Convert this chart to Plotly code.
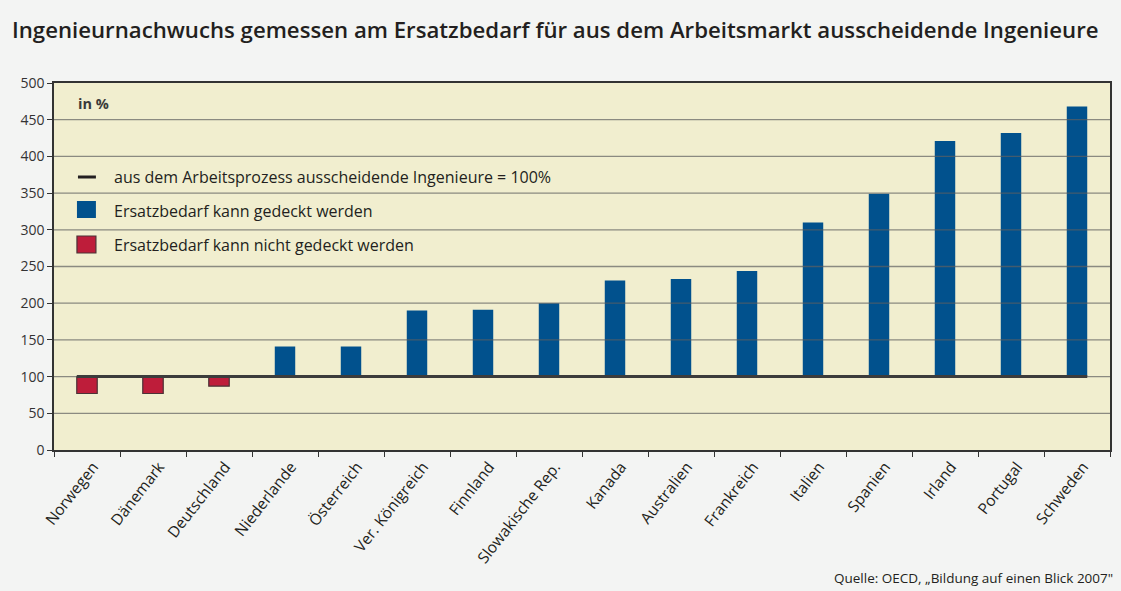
import plotly.graph_objects as go

# data (percent, 100 = replacement need)
countries = ["Norwegen", "Dänemark", "Deutschland", "Niederlande", "Österreich",
             "Ver. Königreich", "Finnland", "Slowakische Rep.", "Kanada", "Australien",
             "Frankreich", "Italien", "Spanien", "Irland", "Portugal", "Schweden"]
values = [77, 77, 87, 141, 141, 190, 191, 200, 231, 233, 244, 310, 349, 421, 432, 468]
baseline = 100

BLUE = "#01518d"
RED = "#be1d3a"
PLOT_BG = "#f1eecf"
PAGE_BG = "#f3f4f3"
TXT = "#231f20"
FONT = "Open Sans"

bar_w = 0.31

# plot area in pixels, used to place the hand-drawn legend
L, R, T, B = 54, 1112, 83, 450
W, H = 1121, 591


def px_x(p):
    return (p - L) / (R - L)


def px_y(p):
    return (B - p) / (B - T)


colors = [BLUE if v >= baseline else RED for v in values]
outline = [BLUE if v >= baseline else "#4b3236" for v in values]

fig = go.Figure()
fig.add_trace(go.Bar(
    x=countries,
    y=[v - baseline for v in values],
    base=baseline,
    width=bar_w,
    marker=dict(color=colors, line=dict(color=outline, width=[0 if v >= baseline else 1.2 for v in values])),
    showlegend=False,
    hoverinfo="x+text",
    text=[str(v) for v in values],
    textposition="none",
))

shapes = []
# gridlines sit on top of the bars in the original
for g in range(50, 500, 50):
    shapes.append(dict(type="line", xref="paper", yref="y", x0=0, x1=1, y0=g, y1=g,
                       line=dict(color="rgba(95,95,95,0.7)", width=1.3), layer="above"))
# 100 % reference line
shapes.append(dict(type="line", xref="x", yref="y", x0=-bar_w / 2, x1=len(countries) - 1 + bar_w / 2,
                   y0=baseline, y1=baseline, line=dict(color="#3c3c3c", width=3), layer="above"))

# legend drawn by hand
shapes.append(dict(type="line", xref="paper", yref="paper", x0=px_x(78), x1=px_x(96),
                   y0=px_y(177), y1=px_y(177), line=dict(color=TXT, width=3)))
shapes.append(dict(type="rect", xref="paper", yref="paper", x0=px_x(77), x1=px_x(96),
                   y0=px_y(201), y1=px_y(218), fillcolor=BLUE, line=dict(width=0)))
shapes.append(dict(type="rect", xref="paper", yref="paper", x0=px_x(77), x1=px_x(96),
                   y0=px_y(236), y1=px_y(253), fillcolor=RED, line=dict(color="#4b3236", width=1.2)))

legend_texts = [
    ("aus dem Arbeitsprozess ausscheidende Ingenieure = 100%", 177),
    ("Ersatzbedarf kann gedeckt werden", 211),
    ("Ersatzbedarf kann nicht gedeckt werden", 245),
]
annotations = []
for txt, yy in legend_texts:
    annotations.append(dict(text=txt, xref="paper", yref="paper", x=px_x(112), y=px_y(yy),
                            xanchor="left", yanchor="middle", showarrow=False,
                            font=dict(family=FONT, size=16, color=TXT)))
annotations.append(dict(text="<b>in %</b>", xref="paper", yref="paper", x=px_x(76), y=px_y(103),
                        xanchor="left", yanchor="middle", showarrow=False,
                        font=dict(family=FONT, size=14.5, color="#3a3a3a")))
annotations.append(dict(text="Quelle: OECD, „Bildung auf einen Blick 2007\"", xref="paper", yref="paper",
                        x=px_x(1117), y=px_y(578), xanchor="right", yanchor="middle", showarrow=False,
                        font=dict(family=FONT, size=13.5, color=TXT)))

fig.update_layout(
    width=W, height=H,
    margin=dict(l=L, r=W - R, t=T, b=H - B),
    paper_bgcolor=PAGE_BG,
    plot_bgcolor=PLOT_BG,
    title=dict(text="Ingenieurnachwuchs gemessen am Ersatzbedarf für aus dem Arbeitsmarkt ausscheidende Ingenieure",
               x=12 / W, xanchor="left", y=1 - 30 / H, yanchor="middle",
               font=dict(family=FONT, size=22.2, color=TXT, weight=600)),
    shapes=shapes,
    annotations=annotations,
    font=dict(family=FONT, color=TXT),
)
fig.update_xaxes(
    showgrid=False,
    showline=True, linecolor="#333333", linewidth=1.5, mirror=True,
    ticks="outside", tickson="boundaries", ticklen=5, tickcolor="#333333", tickwidth=1.2,
    tickangle=-52, tickfont=dict(size=15.5, color=TXT), ticklabelshift=6,
    range=[-0.5, len(countries) - 0.5],
)
fig.update_yaxes(
    range=[0, 500], dtick=50,
    showgrid=False, zeroline=False,
    showline=True, linecolor="#333333", linewidth=1.5, mirror=True,
    ticks="outside", ticklen=5, tickcolor="#333333", tickwidth=1.2,
    tickfont=dict(size=14, color="#333333"),
)

# drop the default page margin so the figure fills the window
fig.write_html("out.html", config={"displayModeBar": False},
               post_script="document.body.style.margin='0';document.body.style.overflow='hidden';")
